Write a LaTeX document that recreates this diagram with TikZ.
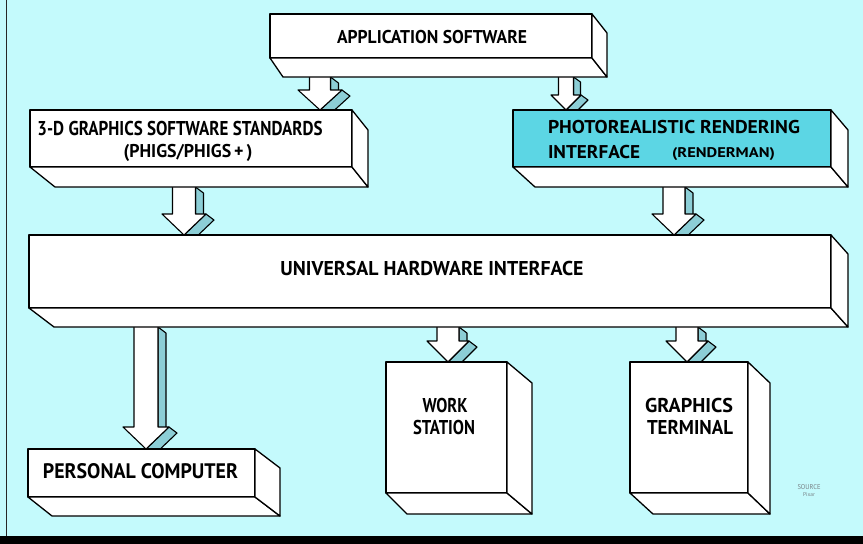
\documentclass[tikz,border=0pt]{standalone}
\usepackage{fontspec}
\setmainfont{PT Sans}
\usepackage{graphicx}
\usetikzlibrary{calc}
\definecolor{bg}{RGB}{196,250,252}
\definecolor{photo}{RGB}{92,214,228}
\definecolor{aside}{RGB}{140,206,214}
\definecolor{srcgray}{RGB}{120,130,135}
\newcommand\fitw[3]{\resizebox{#1pt}{\height}{\fontsize{#2}{#2}\selectfont\bfseries #3}}
\newcommand\fitr[3]{\resizebox{#1pt}{\height}{\fontsize{#2}{#2}\selectfont #3}}
\pgfdeclarelayer{bgfill}
\pgfdeclarelayer{arrows}
\pgfsetlayers{bgfill,arrows,main}
\tikzset{
  face/.style={draw=black, fill=white, line width=1.3pt, line join=round},
  front/.style={face, rectangle, inner sep=0pt, outer sep=0pt, anchor=north west},
  lbl/.style={inner sep=0pt, outer sep=0pt, anchor=base},
  lblw/.style={lbl, anchor=base west},
  arr/.style={draw=black, fill=white, line width=1.1pt, line join=round},
  arrside/.style={arr, fill=aside}
}
% slab faces: node, left depth, right depth, vertical depth
\newcommand\slab[4]{%
  \draw[face] (#1.south west) -- (#1.south east) -- ($(#1.south east)+(#3,#4)$) -- ($(#1.south west)+(#2,#4)$) -- cycle;
  \draw[face] (#1.north east) -- ($(#1.north east)+(#3,#4)$) -- ($(#1.south east)+(#3,#4)$) -- (#1.south east) -- cycle;
}
% block arrow: start, tip, half shaft, half head, head length, depth x, depth y
\newcommand\barrow[7]{%
  \draw[arrside] ($(#1)+(#3,0)$) -- ($(#1)+(#3+#6,#7)$) -- ($(#2)+(#3+#6,-#5+#7)$) -- ($(#2)+(#3,-#5)$) -- cycle;
  \draw[arrside] ($(#2)+(#4,-#5)$) -- ($(#2)+(#4+#6,-#5+#7)$) -- ($(#2)+(#6,#7)$) -- (#2) -- cycle;
  \draw[arr] ($(#1)+(-#3,0)$) -- ($(#2)+(-#3,-#5)$) -- ($(#2)+(-#4,-#5)$) -- (#2) -- ($(#2)+(#4,-#5)$) -- ($(#2)+(#3,-#5)$) -- ($(#1)+(#3,0)$);
}
\begin{document}
\begin{tikzpicture}[x=1pt,y=-1pt]
\useasboundingbox (0,0) rectangle (863,544);
\begin{pgfonlayer}{bgfill}
  \fill[bg] (0,0) rectangle (863,544);
  \draw[line width=1.6pt, black!85] (6.5,0) -- (6.5,537);
  \fill[black] (0,536) rectangle (863,544);
\end{pgfonlayer}

% boxes (front faces)
\node[front, minimum width=322pt, minimum height=44pt] (app) at (270,14) {};
\node[front, minimum width=322pt, minimum height=57pt] (g3d) at (30,110) {};
\node[front, fill=photo, minimum width=318pt, minimum height=57pt] (photo) at (513,110) {};
\node[front, minimum width=802pt, minimum height=73pt] (univ) at (29,235) {};
\node[front, minimum width=227pt, minimum height=48pt] (pc) at (28,449) {};
\node[front, minimum width=121pt, minimum height=131pt] (ws) at (386,362) {};
\node[front, minimum width=118pt, minimum height=131pt] (gt) at (630,362) {};

\slab{app}{13}{15}{19}
\slab{g3d}{25}{16}{20}
\slab{photo}{22}{17}{20}
\slab{univ}{25}{17}{19}
\slab{pc}{24}{25}{19}
\slab{ws}{21}{25}{21}
\slab{gt}{23}{22}{21}

% labels
\node[lbl] (tapp) at (432,43.5) {\fitw{190}{18.5}{APPLICATION SOFTWARE}};
\node[lbl] (tg1) at (180,135) {\fitw{285}{20}{3-D GRAPHICS SOFTWARE STANDARDS}};
\node[lbl] (tg2) at (188,157) {\fitw{129}{18.5}{(PHIGS/PHIGS\,+\,)}};
\node[lblw] (tp1) at (548,133.5) {\fitw{252}{18.5}{PHOTOREALISTIC RENDERING}};
\node[lblw] (tp2) at (548,158.5) {\fitw{92}{18.5}{INTERFACE}};
\node[lblw] (tp3) at (672,157) {\fitw{103}{14}{(RENDERMAN)}};
\node[lbl] (tuni) at (432,275) {\fitw{303}{20}{UNIVERSAL HARDWARE INTERFACE}};
\node[lbl] (tpc) at (140.5,478.5) {\fitw{195}{21}{PERSONAL COMPUTER}};
\node[lbl] (tws1) at (445,412) {\fitw{45}{20}{WORK}};
\node[lbl] (tws2) at (444,434) {\fitw{62}{20}{STATION}};
\node[lbl] (tgt1) at (689,412) {\fitw{88}{20}{GRAPHICS}};
\node[lbl] (tgt2) at (690,434) {\fitw{86}{20}{TERMINAL}};
\node[lbl, text=srcgray] (tsrc) at (809,489) {\fitr{23}{7}{SOURCE}};
\node[lbl, text=srcgray] (tpix) at (809,496) {\fitr{12}{5.5}{Pixar}};

% arrow end points
\coordinate (a1s) at ($(app.south)+(-111,19)$);   \coordinate (a1e) at (a1s |- g3d.north);
\coordinate (a2s) at ($(app.south)+(135,19)$);    \coordinate (a2e) at (a2s |- photo.north);
\coordinate (a3s) at ($(g3d.south)+(-7,20)$);     \coordinate (a3e) at (a3s |- univ.north);
\coordinate (a4s) at ($(photo.south)+(2,20)$);    \coordinate (a4e) at (a4s |- univ.north);
\coordinate (a5s) at ($(univ.south)+(-284,19)$);  \coordinate (a5e) at (a5s |- pc.north);
\coordinate (a6s) at ($(univ.south)+(18,19)$);    \coordinate (a6e) at (a6s |- ws.north);
\coordinate (a7s) at ($(univ.south)+(257,19)$);   \coordinate (a7e) at (a7s |- gt.north);

\begin{pgfonlayer}{arrows}
  \barrow{a1s}{a1e}{10.5}{22}{20}{8}{6}
  \barrow{a2s}{a2e}{7.5}{15}{15}{7}{5}
  \barrow{a3s}{a3e}{11.5}{22}{21}{8}{6}
  \barrow{a4s}{a4e}{11}{22}{21}{8}{6}
  \barrow{a5s}{a5e}{12}{23}{22}{8}{6}
  \barrow{a6s}{a6e}{11}{21}{21}{8}{6}
  \barrow{a7s}{a7e}{11}{21}{21}{8}{6}
\end{pgfonlayer}
\end{tikzpicture}
\end{document}
